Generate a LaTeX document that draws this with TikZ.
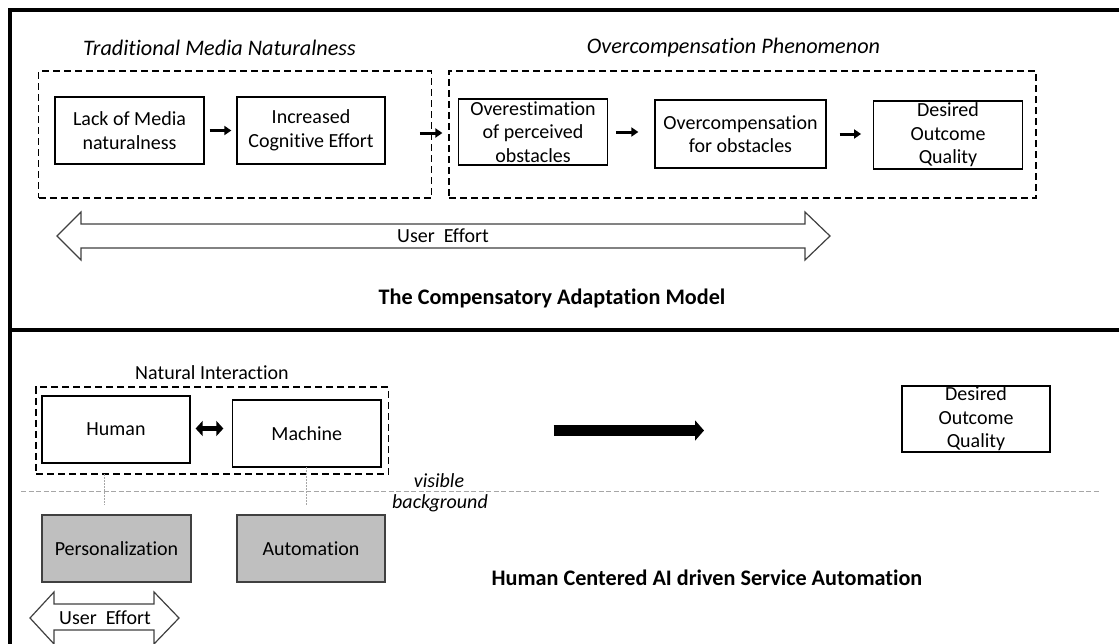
\documentclass[tikz,border=0pt]{standalone}
\usepackage{fontspec}
\setmainfont{Carlito}[Ligatures={NoCommon}]
\usetikzlibrary{arrows.meta,calc}
\definecolor{boxgray}{HTML}{BFBFBF}
\definecolor{edgegray}{HTML}{404040}
\definecolor{guidegray}{HTML}{A6A6A6}

\begin{document}
\begin{tikzpicture}[x=1pt,y=-1pt,
  txt/.style={font=\fontsize{20}{23.5}\selectfont, inner sep=0pt, align=center},
  box/.style={txt, draw=black, line width=1.3pt, rectangle},
  grouping/.style={draw=black, dash pattern=on 7pt off 4pt, line width=1.2pt, rectangle, inner sep=0pt},
  shaded/.style={box, fill=boxgray, draw=edgegray},
  heading/.style={font=\fontsize{22.2}{26}\selectfont\itshape, inner sep=0pt},
  modeltitle/.style={font=\fontsize{22.2}{26}\selectfont\bfseries, inner sep=0pt},
  link/.style={line width=3pt, -{Triangle[length=7pt,width=9pt]}},
  twoway/.style={line width=5.5pt, {Triangle[length=7pt,width=15pt]}-{Triangle[length=7pt,width=15pt]}},
  bigarrow/.style={line width=11.5pt, -{Triangle[length=9pt,width=20pt]}},
  frame/.style={line width=4.5pt, line join=miter},
  tie/.style={draw=guidegray, line width=0.9pt, dash pattern=on 1.5pt off 1.5pt},
  layerline/.style={draw=guidegray, line width=0.9pt, dash pattern=on 5pt off 2.5pt},
  effort/.style={draw=edgegray, line width=1.2pt, fill=white, line join=miter}
]
\useasboundingbox (0,0) rectangle (1119,643);

% outer frame and the divider between the two models
\draw[frame] (10,645) -- (10,10) -- (1121,10);
\draw[frame] (10,330) -- (1121,330);

% ---------- The Compensatory Adaptation Model ----------
\node[grouping, minimum width=392.5pt, minimum height=127pt] (tmn) at (235,134.5) {};
\node[grouping, minimum width=587pt, minimum height=127pt] (ocp) at (742.5,134.5) {};
\node[heading] (tmnlabel) at (219.5,48) {Traditional Media Naturalness};
\node[heading] (ocplabel) at (733.5,48) {Overcompensation Phenomenon};

\node[box, minimum width=149pt, minimum height=67pt] (lack) at (129.5,130.5) {Lack of Media\\naturalness};
\node[box, minimum width=148pt, minimum height=67pt] (incr) at (311,130.5) {Increased\\Cognitive Effort};
\node[box, minimum width=148.5pt, minimum height=66pt] (over) at (533,132) {Overestimation\\of perceived\\obstacles};
\node[box, minimum width=171pt, minimum height=68pt] (comp) at (740.5,134) {Overcompensation\\for obstacles};
\node[box, minimum width=148.5pt, minimum height=68pt] (des1) at (948,135) {Desired\\Outcome\\Quality};

\draw[link, shorten <=5pt, shorten >=5pt] (lack.east) -- (lack.east -| incr.west);
\draw[link, shorten <=-12pt, shorten >=6pt] ([yshift=1.5pt]tmn.east) -- ([yshift=1.5pt]tmn.east -| ocp.west);
\draw[link, shorten <=8.5pt, shorten >=16pt] (over.east) -- (over.east -| comp.west);
\draw[link, shorten <=13pt, shorten >=12pt] (comp.east) -- (comp.east -| des1.west);

% user effort spanning the whole chain
\draw[effort] (57,236) -- (81,212) -- (81,224) -- (805,224) -- (805,212) -- (830,236)
  -- (805,260) -- (805,248) -- (81,248) -- (81,260) -- cycle;
\node[txt] (effort1) at (443,236) {User\ \ Effort};

\node[modeltitle] (camtitle) at (552,298) {The Compensatory Adaptation Model};

% ---------- Human Centered AI driven Service Automation ----------
\node[grouping, minimum width=352.6pt, minimum height=87pt] (ni) at (212.3,430.5) {};
\node[txt] (nilabel) at (212,373) {Natural Interaction};
\node[box, minimum width=148pt, minimum height=67pt] (human) at (116,429.5) {Human};
\node[box, minimum width=148.5pt, minimum height=67pt] (machine) at (306.75,433.5) {Machine};
\draw[twoway, shorten <=5pt, shorten >=8.5pt] ([yshift=1pt]human.east) -- ([yshift=1pt]human.east -| machine.west);

% visible / background layers
\draw[layerline] (21,491) -- (1100,491);
\node[txt, font=\fontsize{20}{24}\selectfont\itshape] (vis) at (439,481) {visible};
\node[txt, font=\fontsize{20}{24}\selectfont\itshape] (bg) at (440,503) {background};

\node[shaded, minimum width=149pt, minimum height=67pt] (pers) at (116.5,548.5) {Personalization};
\node[shaded, minimum width=148pt, minimum height=67pt] (auto) at (311,548.5) {Automation};

\coordinate (tieA) at (104,474);
\coordinate (tieAend) at (104,505);
\coordinate (tieB) at (306,467);
\coordinate (tieBend) at (306,505);
\draw[tie] (tieA) -- (tieAend);
\draw[tie] (tieB) -- (tieBend);

\draw[effort] (30,618) -- (54,592) -- (54,604) -- (154,604) -- (154,592) -- (179,618)
  -- (154,644) -- (154,630) -- (54,630) -- (54,644) -- cycle;
\node[txt] (effort2) at (105,618) {User\ \ Effort};

\coordinate (flowstart) at (553.5,430.5);
\coordinate (flowend) at (704,430.5);
\draw[bigarrow] (flowstart) -- (flowend);

\node[box, minimum width=148pt, minimum height=66pt] (des2) at (976,419) {Desired\\Outcome\\Quality};

\node[modeltitle] (hcaititle) at (707,578) {Human Centered AI driven Service Automation};
\end{tikzpicture}
\end{document}
